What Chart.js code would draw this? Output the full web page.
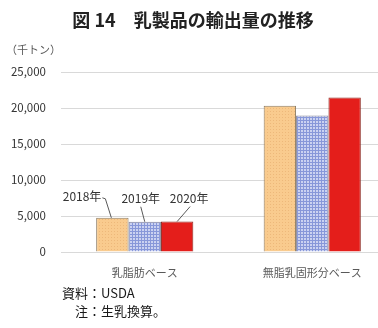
<!DOCTYPE html>
<html>
<head>
<meta charset="utf-8">
<script src="https://cdn.jsdelivr.net/npm/chart.js@4.4.1/dist/chart.umd.min.js"></script>
<style>
  html, body { margin: 0; padding: 0; background: #fff; overflow: hidden; }
  body { width: 378px; height: 328px; position: relative; font-family: "Noto Sans CJK JP", sans-serif; }
  #wrap { position: absolute; left: 0; top: 0; width: 378px; height: 328px; overflow: hidden; }
  #chart { position: absolute; left: 0; top: 0; }
  .title { position: absolute; left: 0; top: 6px; width: 386px; text-align: center; font-size: 18px; font-weight: bold; color: #222; }
  .unit { position: absolute; left: 6px; top: 41px; font-size: 11px; color: #595959; }
  .note { position: absolute; left: 62px; font-size: 13px; color: #1a1a1a; line-height: 18px; }
</style>
</head>
<body>
<div id="wrap">
  <canvas id="chart" width="400" height="328"></canvas>
</div>
<div class="title">図 14　乳製品の輸出量の推移</div>
<div class="unit">（千トン）</div>
<div class="note" style="top:284px">資料：USDA<br>　注：生乳換算。</div>

<script>
// データ（千トン）
const categories = ['乳脂肪ベース', '無脂乳固形分ベース'];
const years = ['2018年', '2019年', '2020年'];
const values2018 = [4750, 20300];
const values2019 = [4200, 18950];
const values2020 = [4230, 21450];
const yTicks = [0, 5000, 10000, 15000, 20000, 25000];

// 塗りつぶしパターン
function dotPattern() {
    const c = document.createElement('canvas');
    c.width = 3; c.height = 3;
    const g = c.getContext('2d');
    g.fillStyle = '#F9CB8E';
    g.fillRect(0, 0, 3, 3);
    g.fillStyle = '#EDB87A';
    g.fillRect(0, 0, 1, 1);
    return g.createPattern(c, 'repeat');
}

function checkPattern() {
    const c = document.createElement('canvas');
    c.width = 3; c.height = 3;
    const g = c.getContext('2d');
    g.fillStyle = '#CBD2F1';
    g.fillRect(0, 0, 3, 3);
    g.fillStyle = '#8797D9';
    g.fillRect(0, 0, 3, 1);
    g.fillRect(0, 0, 1, 3);
    return g.createPattern(c, 'repeat');
}

// 年ラベルと引き出し線
const yearLabels = {
    id: 'yearLabels',
    afterDatasetsDraw(chart) {
        const ctx = chart.ctx;
        const b0 = chart.getDatasetMeta(0).data[0];
        const b1 = chart.getDatasetMeta(1).data[0];
        const b2 = chart.getDatasetMeta(2).data[0];
        ctx.save();
        ctx.strokeStyle = '#595959';
        ctx.lineWidth = 1;
        ctx.beginPath();
        ctx.moveTo(b0.x - 10, b0.y - 20);
        ctx.lineTo(b0.x - 7, b0.y - 19);
        ctx.lineTo(b0.x - 1, b0.y);
        ctx.moveTo(b1.x - 4, b1.y - 15);
        ctx.lineTo(b1.x, b1.y);
        ctx.moveTo(b2.x + 13, b2.y - 15);
        ctx.lineTo(b2.x, b2.y);
        ctx.stroke();

        ctx.fillStyle = '#333';
        ctx.font = '12px "Noto Sans CJK JP", sans-serif';
        ctx.textBaseline = 'middle';
        ctx.textAlign = 'right';
        ctx.fillText(years[0], b0.x - 11, b0.y - 21);
        ctx.textAlign = 'center';
        ctx.fillText(years[1], b1.x - 4, b1.y - 23);
        ctx.fillText(years[2], b2.x + 12, b2.y - 23);
        ctx.restore();
    }
};

const chart = new Chart(document.getElementById('chart'), {
    type: 'bar',
    data: {
        labels: categories,
        datasets: [
            {
                label: years[0],
                data: values2018,
                backgroundColor: dotPattern(),
                borderColor: '#8A7A62',
                borderWidth: 1
            },
            {
                label: years[1],
                data: values2019,
                backgroundColor: checkPattern(),
                borderColor: '#8C8A98',
                borderWidth: 1
            },
            {
                label: years[2],
                data: values2020,
                backgroundColor: '#E41E1B',
                borderColor: '#8E2A22',
                borderWidth: 1
            }
        ]
    },
    options: {
        responsive: false,
        animation: false,
        layout: { padding: { top: 72, right: 4, bottom: 46, left: 0 } },
        datasets: {
            bar: { categoryPercentage: 0.58, barPercentage: 1.0 }
        },
        scales: {
            x: {
                grid: { display: false },
                border: { display: false },
                ticks: {
                    color: '#595959',
                    padding: 6,
                    font: { size: 11, family: '"Noto Sans CJK JP", sans-serif' }
                },
                afterFit(axis) { axis.height = 30; }
            },
            y: {
                min: 0,
                max: 25000,
                afterBuildTicks(axis) { axis.ticks = yTicks.map(v => ({ value: v })); },
                grid: { color: '#D9D9D9', drawTicks: false },
                border: { display: false },
                ticks: {
                    color: '#333',
                    padding: 15,
                    font: { size: 11.5, family: '"Noto Sans CJK JP", sans-serif' },
                    callback: v => v.toLocaleString('en-US')
                },
                afterFit(axis) { axis.width = 61; }
            }
        },
        plugins: {
            legend: { display: false },
            tooltip: { enabled: false }
        }
    },
    plugins: [yearLabels]
});
</script>
</body>
</html>
